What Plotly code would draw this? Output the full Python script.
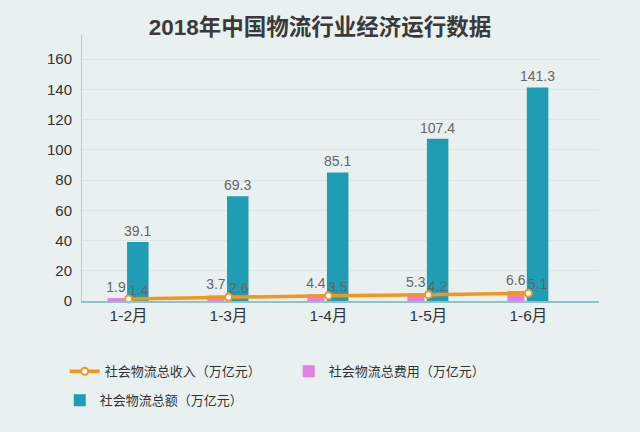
import plotly.graph_objects as go

categories = ["1-2月", "1-3月", "1-4月", "1-5月", "1-6月"]
income = [1.4, 2.6, 3.5, 4.2, 5.1]          # 社会物流总收入
cost = [1.9, 3.7, 4.4, 5.3, 6.6]            # 社会物流总费用
total = [39.1, 69.3, 85.1, 107.4, 141.3]    # 社会物流总额
y_ticks = [0, 20, 40, 60, 80, 100, 120, 140, 160]

FONT = "Liberation Sans, Arial, Noto Sans CJK SC, sans-serif"
BG = "#e8f0f0"
TEAL = "#1f9db5"
PINK = "#e47ee4"
ORANGE = "#f5961c"
LABEL = "#666666"

x = list(range(len(categories)))

fig = go.Figure()
fig.add_trace(go.Bar(
    x=x, y=cost, name="社会物流总费用（万亿元）",
    marker=dict(color=PINK, line=dict(width=0)),
    width=0.17, offset=-0.21,
    text=[f"{v}" for v in cost], textposition="outside", constraintext="none",
    textfont=dict(color=LABEL, size=14, family=FONT),
    cliponaxis=False, legendrank=2,
))
fig.add_trace(go.Bar(
    x=x, y=total, name="社会物流总额（万亿元）",
    marker=dict(color=TEAL, line=dict(width=0)),
    width=0.215, offset=-0.015,
    text=[f"{v}" for v in total], textposition="outside", constraintext="none",
    textfont=dict(color=LABEL, size=14, family=FONT),
    cliponaxis=False, legend="legend2",
))
fig.add_trace(go.Scatter(
    x=x, y=income, name="社会物流总收入（万亿元）",
    mode="lines+markers",
    line=dict(color=ORANGE, width=3.5),
    marker=dict(size=7, color="white", line=dict(color=ORANGE, width=2)),
    cliponaxis=False, legendrank=1,
))
for xi, v in zip(x, income):
    fig.add_annotation(x=xi, y=v, text=f"{v}", showarrow=False,
                       xanchor="left", yanchor="bottom", xshift=-2, yshift=-1,
                       font=dict(color=LABEL, size=14, family=FONT))

fig.update_layout(
    width=640, height=432,
    paper_bgcolor=BG, plot_bgcolor=BG,
    margin=dict(l=82, r=41, t=35, b=131),
    font=dict(family=FONT, color="#333333"),
    title=dict(text="<b>2018年中国物流行业经济运行数据</b>", x=0.5, xanchor="center",
               y=1 - 27 / 432, yanchor="middle",
               font=dict(size=22.5, color="#3a3a3a", family="Liberation Sans, Noto Sans CJK SC, sans-serif")),
    barmode="overlay",
    showlegend=True,
    legend=dict(orientation="h", x=-0.0335, xanchor="left", y=-0.208, yanchor="top",
                entrywidth=179, entrywidthmode="pixels",
                font=dict(size=13, color="#333333", family=FONT),
                bgcolor="rgba(0,0,0,0)", tracegroupgap=0, itemwidth=30),
    legend2=dict(orientation="h", x=-0.043, xanchor="left", y=-0.317, yanchor="top",
                 font=dict(size=13, color="#333333", family=FONT),
                 bgcolor="rgba(0,0,0,0)", itemwidth=30),
    xaxis=dict(
        tickmode="array", tickvals=x, ticktext=categories,
        range=[-0.466, 4.707], showgrid=False, zeroline=False,
        showline=True, linecolor="#8cc3cd", linewidth=1.5,
        tickfont=dict(size=15.5, color="#333333"), ticks="",
    ),
    yaxis=dict(
        range=[0, 176], tickmode="array", tickvals=y_ticks,
        showgrid=True, gridcolor="#dbe6e6", gridwidth=1,
        zeroline=False, showline=True, linecolor="#a8d0d7", linewidth=1,
        tickfont=dict(size=15, color="#333333"), ticks="", ticklabelstandoff=6,
    ),
)

fig.write_html("out.html", config={"displayModeBar": False},
               post_script="document.body.style.margin='0';document.body.style.background='" + BG + "';")
